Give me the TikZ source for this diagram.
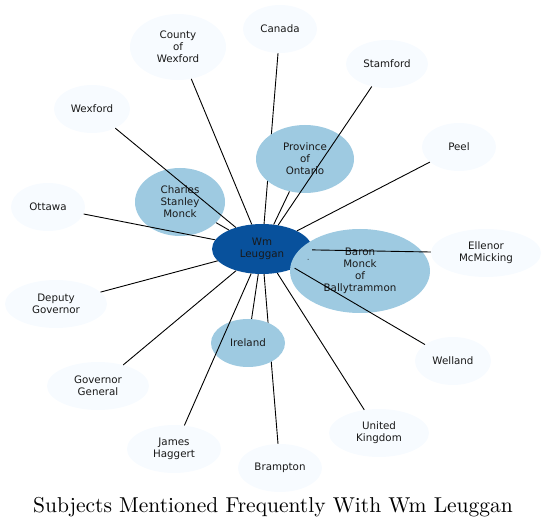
\documentclass[tikz,border=0pt]{standalone}
\usepackage{fontspec}
\newfontfamily\dv{DejaVu Sans}
\newfontfamily\lmten{lmroman10-regular.otf}
\usetikzlibrary{shapes.geometric,backgrounds}
\definecolor{dark}{HTML}{08519C}
\definecolor{mid}{HTML}{9ECAE1}
\definecolor{light}{HTML}{F7FBFF}
\tikzset{
  ell/.style={ellipse, inner sep=0pt, align=center, font=\dv\fontsize{10.3}{12}\selectfont, text=black!90},
  hub/.style={ell, fill=dark},
  midn/.style={ell, fill=mid},
  lightn/.style={ell, fill=light},
  edge/.style={draw=black, line width=0.9pt},
}
\begin{document}
\begin{tikzpicture}[x=1pt,y=-1pt]
\useasboundingbox (0,0) rectangle (547,529);
% nodes
\node[hub, minimum width=100pt, minimum height=50pt] (wm) at (262,249) {Wm\\Leuggan};
\node[midn, minimum width=140pt, minimum height=84pt] (baron) at (360,271) {Baron\\Monck\\of\\Ballytrammon};
\node[midn, minimum width=98pt, minimum height=68pt] (ontario) at (305,159) {Province\\of\\Ontario};
\node[midn, minimum width=90pt, minimum height=68pt] (charles) at (180,202) {Charles\\Stanley\\Monck};
\node[midn, minimum width=74pt, minimum height=48pt] (ireland) at (248,343) {Ireland};
\node[lightn, minimum width=74pt, minimum height=48pt] (canada) at (280,29) {Canada};
\node[lightn, minimum width=96pt, minimum height=66pt] (cwexford) at (178,47) {County\\of\\Wexford};
\node[lightn, minimum width=82pt, minimum height=48pt] (stamford) at (387,64) {Stamford};
\node[lightn, minimum width=74pt, minimum height=48pt] (peel) at (459,147) {Peel};
\node[lightn, minimum width=76pt, minimum height=48pt] (wexford) at (92,109) {Wexford};
\node[lightn, minimum width=74pt, minimum height=48pt] (ottawa) at (48,207) {Ottawa};
\node[lightn, minimum width=110pt, minimum height=48pt] (ellenor) at (486,253) {Ellenor\\McMicking};
\node[lightn, minimum width=102pt, minimum height=48pt] (deputy) at (56,304) {Deputy\\Governor};
\node[lightn, minimum width=76pt, minimum height=48pt] (welland) at (453,361) {Welland};
\node[lightn, minimum width=102pt, minimum height=48pt] (govgen) at (98,386) {Governor\\General};
\node[lightn, minimum width=94pt, minimum height=48pt] (james) at (174,449) {James\\Haggert};
\node[lightn, minimum width=100pt, minimum height=48pt] (uk) at (379,433) {United\\Kingdom};
\node[lightn, minimum width=84pt, minimum height=48pt] (brampton) at (280,468) {Brampton};
% edges hidden behind nodes
\begin{pgfonlayer}{background}
\draw[edge] (wm) -- (canada);
\draw[edge] (wm) -- (brampton);
\end{pgfonlayer}
% edges on top
\draw[edge, shorten >=14.5pt] (wm) -- (baron);
\draw[edge] (wm) -- (ontario);
\draw[edge] (wm) -- (charles);
\draw[edge] (wm) -- (ireland);
\draw[edge] (wm) -- (cwexford);
\draw[edge] (wm) -- (stamford);
\draw[edge] (wm) -- (peel);
\draw[edge] (wm) -- (wexford);
\draw[edge] (wm) -- (ottawa);
\draw[edge] (wm) -- (ellenor);
\draw[edge] (wm) -- (deputy);
\draw[edge] (wm) -- (welland);
\draw[edge] (wm) -- (govgen);
\draw[edge] (wm) -- (james);
\draw[edge] (wm) -- (uk);
% title
\node[inner sep=0pt, font=\lmten\fontsize{21.5}{26}\selectfont] (title) at (273,507) {Subjects Mentioned Frequently With Wm Leuggan};
\end{tikzpicture}
\end{document}
